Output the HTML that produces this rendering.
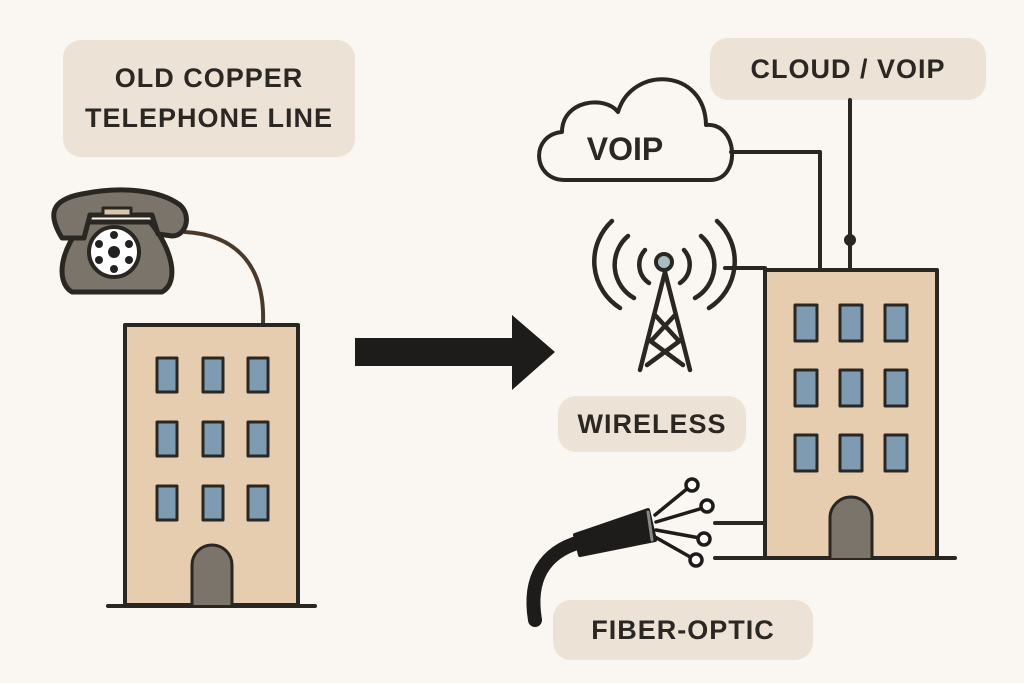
<!DOCTYPE html><html><head><style>
body{margin:0;background:#faf6f1;}
.lb{position:absolute;background:#ece2d6;border-radius:18px;font-family:"Liberation Sans",sans-serif;font-weight:bold;color:#2b2823;text-align:center;letter-spacing:1px}
</style></head><body>
<div style="position:relative;width:1024px;height:683px;overflow:hidden;background:#faf6f1">
<div class="lb" style="left:63px;top:40px;width:292px;height:117px;font-size:27px;line-height:40px;padding-top:18px;box-sizing:border-box">OLD COPPER<br>TELEPHONE LINE</div>
<div class="lb" style="left:710px;top:38px;width:276px;height:62px;font-size:27px;line-height:62px">CLOUD / VOIP</div>
<div class="lb" style="left:558px;top:396px;width:188px;height:56px;font-size:27px;line-height:56px">WIRELESS</div>
<div class="lb" style="left:553px;top:600px;width:260px;height:60px;font-size:27px;line-height:60px">FIBER-OPTIC</div>
<svg width="1024" height="683" style="position:absolute;left:0;top:0" fill="none" stroke="#2a2622" stroke-width="4" stroke-linecap="round" stroke-linejoin="round">
<path d="M185 232 C240 235 265 270 263 323" stroke="#4a3a2c" stroke-width="4"/>
<path d="M85 222 L150 222 C172 248 180 282 162 292 L72 292 C55 282 60 248 85 222Z" fill="#7a746a" stroke-width="5"/>
<path d="M62 238 C48 215 50 200 82 194 C122 186 160 190 180 205 C192 216 186 236 172 236 L158 234 L152 215 L90 215 L84 238 Z" fill="#7a746a" stroke-width="5"/>
<circle cx="114" cy="252" r="25" fill="#fff" stroke-width="4"/>
<circle cx="114" cy="252" r="6" fill="#222" stroke="none"/>
<g fill="#222" stroke="none"><circle cx="114" cy="235" r="4"/><circle cx="129" cy="244" r="4"/><circle cx="129" cy="260" r="4"/><circle cx="114" cy="269" r="4"/><circle cx="99" cy="260" r="4"/><circle cx="99" cy="244" r="4"/></g>
<rect x="103" y="208" width="28" height="8" fill="#d9c6ad" stroke-width="3"/>
<rect x="125" y="325" width="173" height="280" fill="#e6cdb0" stroke-width="4"/>
<line x1="108" y1="606" x2="315" y2="606"/>
<g fill="#7f9bb1" stroke-width="3">
<rect x="157" y="358" width="20" height="34"/><rect x="203" y="358" width="20" height="34"/><rect x="248" y="358" width="20" height="34"/>
<rect x="157" y="422" width="20" height="34"/><rect x="203" y="422" width="20" height="34"/><rect x="248" y="422" width="20" height="34"/>
<rect x="157" y="486" width="20" height="34"/><rect x="203" y="486" width="20" height="34"/><rect x="248" y="486" width="20" height="34"/>
</g>
<path d="M192 605 L192 565 A20 20 0 0 1 232 565 L232 605" fill="#7a746a" stroke-width="3"/>
<polygon points="355,338 512,338 512,315 555,352 512,390 512,366 355,366" fill="#1e1c1a" stroke="none"/>
<path d="M565 180 C532 180 530 135 562 132 C562 100 605 95 618 112 C632 65 705 68 706 125 C738 122 742 180 710 180 Z" fill="#faf6f1" stroke-width="4"/>
<text x="625" y="160" font-family="Liberation Sans,sans-serif" font-weight="bold" font-size="32" fill="#2b2823" stroke="none" text-anchor="middle">VOIP</text>
<path d="M731 152 L820 152 L820 270"/>
<line x1="850" y1="100" x2="850" y2="270"/>
<circle cx="850" cy="240" r="4" fill="#2a2622"/>
<g stroke-width="4.5">
<path d="M612 221 A55 55 0 0 0 620 308"/><path d="M628 236 A38 38 0 0 0 634 298"/><path d="M645 250 A22 22 0 0 0 649 283"/>
<path d="M717 221 A55 55 0 0 1 709 308"/><path d="M701 236 A38 38 0 0 1 695 298"/><path d="M684 250 A22 22 0 0 1 680 283"/>
<path d="M665 272 L640 370 M665 272 L690 370 M655 315 L678 340 M675 315 L652 340 M649 340 L683 365 M681 340 L647 365"/>
</g>
<circle cx="664" cy="262" r="8" fill="#a8bcc4" stroke-width="4"/>
<line x1="725" y1="268" x2="765" y2="268"/>
<rect x="765" y="270" width="172" height="288" fill="#e6cdb0" stroke-width="4"/>
<line x1="715" y1="558" x2="955" y2="558"/>
<g fill="#7f9bb1" stroke-width="3">
<rect x="795" y="305" width="22" height="36"/><rect x="840" y="305" width="22" height="36"/><rect x="885" y="305" width="22" height="36"/>
<rect x="795" y="370" width="22" height="36"/><rect x="840" y="370" width="22" height="36"/><rect x="885" y="370" width="22" height="36"/>
<rect x="795" y="435" width="22" height="36"/><rect x="840" y="435" width="22" height="36"/><rect x="885" y="435" width="22" height="36"/>
</g>
<path d="M830 558 L830 518 A21 21 0 0 1 872 518 L872 558" fill="#7a746a" stroke-width="3"/>
<line x1="715" y1="523" x2="765" y2="523"/>
<path d="M535 620 C528 578 545 552 580 542" stroke="#1e1c1a" stroke-width="14"/>
<polygon points="575,535 648,510 655,540 580,555" fill="#1e1c1a" stroke="#1e1c1a" stroke-width="4"/>
<line x1="648" y1="512" x2="652" y2="540" stroke="#888" stroke-width="3"/>
<g stroke="#1e1c1a" stroke-width="3.5">
<line x1="655" y1="515" x2="688" y2="488"/><line x1="656" y1="522" x2="703" y2="508"/><line x1="656" y1="530" x2="700" y2="538"/><line x1="655" y1="537" x2="692" y2="558"/>
<circle cx="692" cy="485" r="6" fill="#fff"/><circle cx="707" cy="506" r="6" fill="#fff"/><circle cx="704" cy="539" r="6" fill="#fff"/><circle cx="696" cy="560" r="6" fill="#fff"/>
</g>
</svg>
</div>
</body></html>
